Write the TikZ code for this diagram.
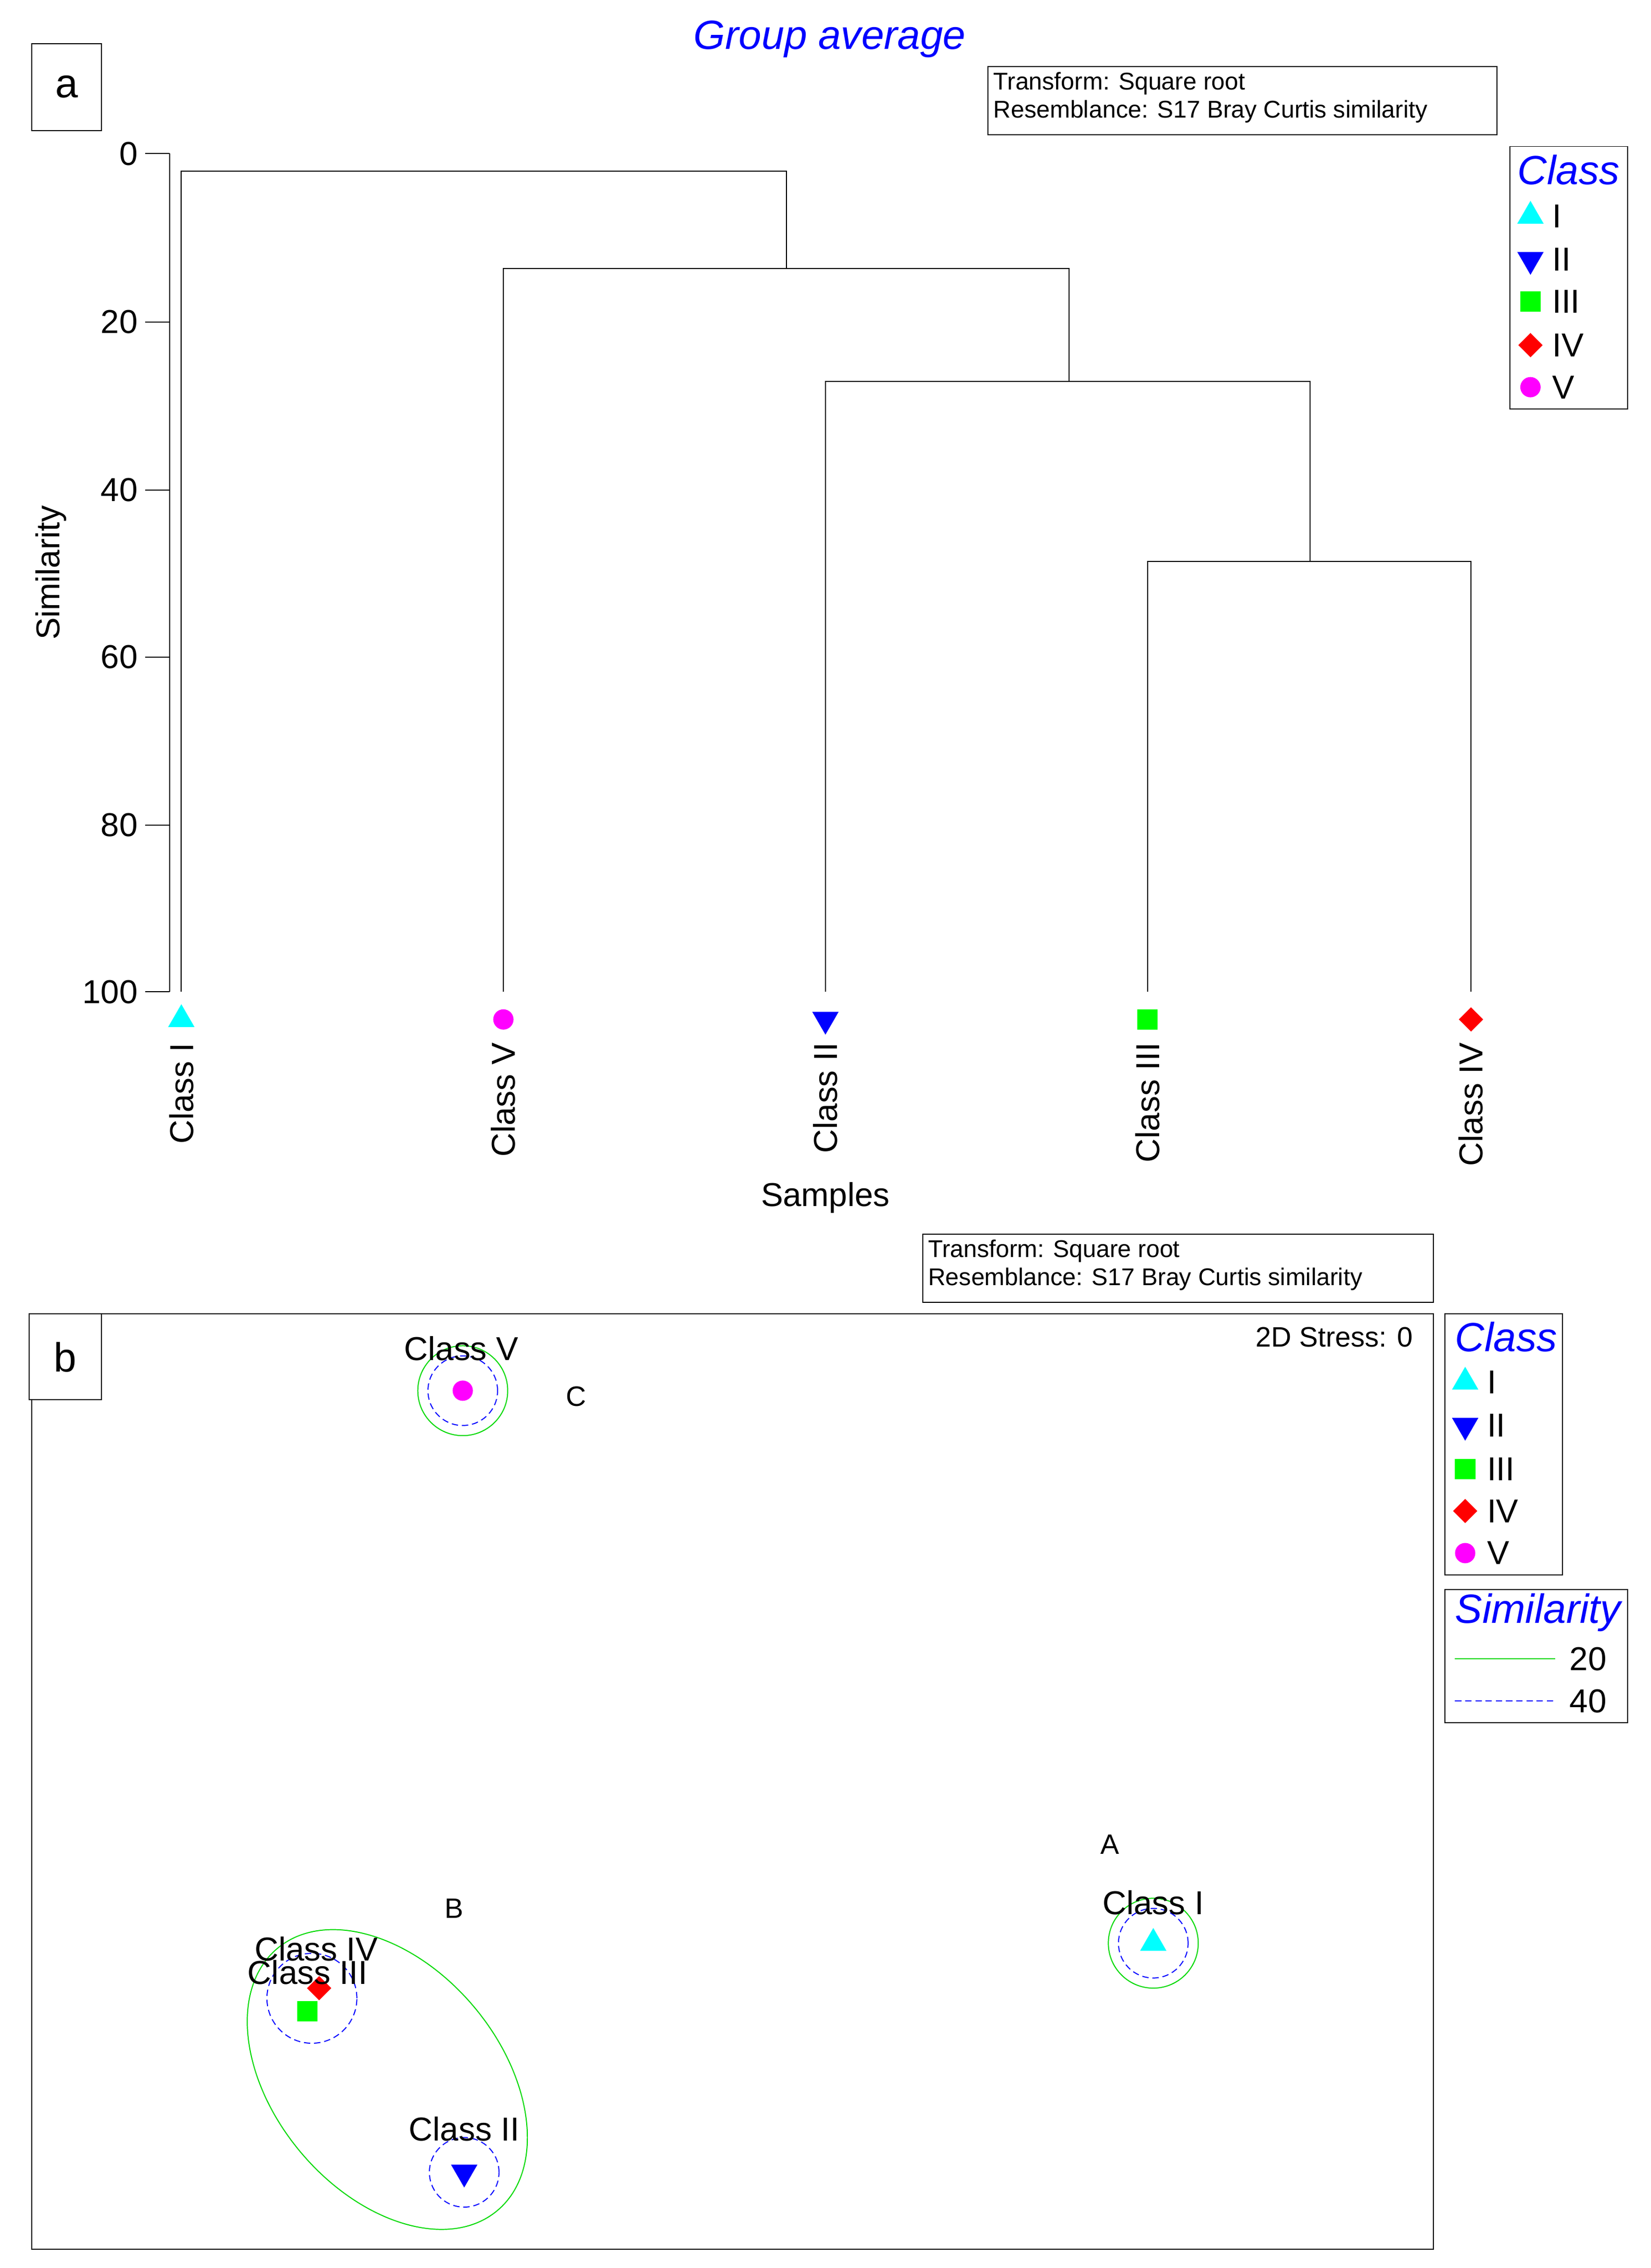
\documentclass[tikz,border=0pt]{standalone}
\usepackage{fontspec}
\setmainfont{Liberation Sans}
\usetikzlibrary{shapes.geometric, positioning}

\definecolor{aqua}{RGB}{0,255,255}
\definecolor{fuchsia}{RGB}{255,0,255}
\definecolor{lime}{RGB}{0,255,0}

\tikzset{
    mk/.style={inner sep=0pt, draw=none},
    cI/.style={mk, regular polygon, regular polygon sides=3, minimum size=0.42cm, fill=aqua},
    cII/.style={mk, regular polygon, regular polygon sides=3, shape border rotate=180, minimum size=0.42cm, fill=blue},
    cIII/.style={mk, rectangle, minimum size=0.28cm, fill=lime},
    cIV/.style={mk, diamond, minimum size=0.34cm, fill=red},
    cV/.style={mk, circle, minimum size=0.28cm, fill=fuchsia},
    txt/.style={font=\fontsize{13}{15}\selectfont, inner sep=1pt},
    small/.style={font=\fontsize{9.5}{11}\selectfont},
    head/.style={text=blue, font=\fontsize{16}{18}\selectfont\itshape},
    sim20/.style={draw=lime!85!black, thin},
    sim40/.style={draw=blue, thin, dash pattern=on 2.5pt off 1.5pt},
}

\begin{document}
\begin{tikzpicture}[x=0.02cm, y=-0.02cm]
    \useasboundingbox (0,0) rectangle (1138,1564);

    % Panel a
    \node[head] (title) at (572,27) {Group average};
    \draw (22,30) rectangle (70,90);
    \node[txt, font=\fontsize{16}{18}\selectfont] (pa) at (46,60) {a};
    \draw (681,46) rectangle (1032,93);
    \node[small, anchor=north west, align=left, inner sep=2pt] (tra) at (681,46)
        {Transform: Square root\\Resemblance: S17 Bray Curtis similarity};

    % Axis
    \draw (117,106) -- (117,684);
    \foreach \v/\y in {0/106,20/222,40/338,60/453,80/569,100/684} {
        \draw (100,\y) -- (117,\y);
        \node[txt, anchor=east] (t\v) at (97,\y) {\v};
    }
    \node[txt, rotate=90] (ylab) at (35,395) {Similarity};
    \node[txt] (xlab) at (569,826) {Samples};

    % Leaves
    \foreach \n/\x/\s/\l in {a/125/cI/I, b/347/cV/V, c/569/cII/II, d/791/cIII/III, e/1014/cIV/IV} {
        \coordinate (leaf\n) at (\x,684);
        \node[\s] (m\n) at (\x,703) {};
        \node[txt, rotate=90, anchor=east] (lab\n) at (\x,717) {Class \l};
    }

    % Dendrogram
    \draw (leafd) |- (903,387) -| (leafe);
    \draw (leafc) |- (737,263) -| (903,387);
    \draw (leafb) |- (542,185) -| (737,263);
    \draw (leafa) |- (330,118) -| (542,185);

    % Legend a
    \draw (1041,101) rectangle (1122,282);
    \node[head, anchor=west, inner sep=1pt] (lga) at (1044,117) {Class};
    \foreach \s/\l/\y in {cI/I/149, cII/II/179, cIII/III/208, cIV/IV/238, cV/V/267} {
        \node[\s] (la\l) at (1055,\y) {};
        \node[txt, anchor=west] at (1068,\y) {\l};
    }

    % Panel b
    \draw (22,906) rectangle (988,1551);
    \draw[fill=white] (20,906) rectangle (70,965);
    \node[txt, font=\fontsize{16}{18}\selectfont] (pb) at (45,936) {b};
    \draw (636,851) rectangle (988,898);
    \node[small, anchor=north west, align=left, inner sep=2pt] (trb) at (636,851)
        {Transform: Square root\\Resemblance: S17 Bray Curtis similarity};
    \node[small, anchor=east, font=\fontsize{11}{13}\selectfont] (stress) at (980,922) {2D Stress: 0};

    % Points
    \node[cV] (pV) at (319,959) {};
    \node[cI] (pI) at (795,1340) {};
    \node[cIII] (pIII) at (212,1387) {};
    \node[cIV] (pIV) at (220,1371) {};
    \node[cII] (pII) at (320,1498) {};

    \draw[sim20] (pV.center) circle (0.62cm);
    \draw[sim40] (pV.center) circle (0.48cm);
    \draw[sim20] (pI.center) circle (0.62cm);
    \draw[sim40] (pI.center) circle (0.48cm);
    \draw[sim40] (215,1378) circle (0.62cm);
    \draw[sim40] (pII.center) circle (0.48cm);
    \draw[sim20, rotate around={-50:(267,1434)}] (267,1434) ellipse [x radius=2.36cm, y radius=1.56cm];

    \node[txt] (nV) at (318,930) {Class V};
    \node[txt] (nI) at (795,1312) {Class I};
    \node[txt] (nIV) at (218,1344) {Class IV};
    \node[txt] (nIII) at (212,1360) {Class III};
    \node[txt] (nII) at (320,1468) {Class II};
    \node[small, font=\fontsize{11}{13}\selectfont] (gA) at (765,1272) {A};
    \node[small, font=\fontsize{11}{13}\selectfont] (gB) at (313,1316) {B};
    \node[small, font=\fontsize{11}{13}\selectfont] (gC) at (397,963) {C};

    % Legend b
    \draw (996,906) rectangle (1077,1086);
    \node[head, anchor=west, inner sep=1pt] (lgb) at (1001,922) {Class};
    \foreach \s/\l/\y in {cI/I/953, cII/II/983, cIII/III/1013, cIV/IV/1042, cV/V/1071} {
        \node[\s] (lb\l) at (1010,\y) {};
        \node[txt, anchor=west] at (1023,\y) {\l};
    }
    \draw (996,1096) rectangle (1122,1188);
    \node[head, anchor=west, inner sep=1pt] (lgs) at (1001,1112) {Similarity};
    \draw[sim20] (1003,1144) -- (1072,1144);
    \node[txt, anchor=west] (s20) at (1080,1144) {20};
    \draw[sim40] (1003,1173) -- (1072,1173);
    \node[txt, anchor=west] (s40) at (1080,1173) {40};
\end{tikzpicture}
\end{document}
